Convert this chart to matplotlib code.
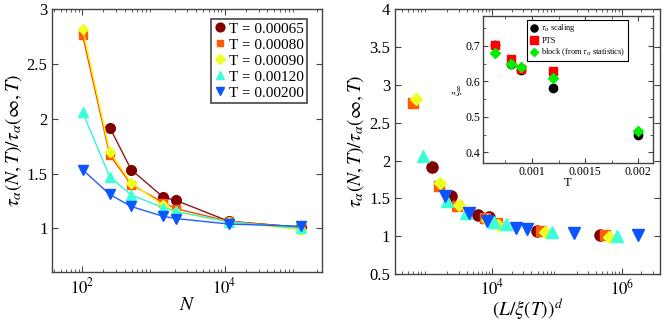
import matplotlib
matplotlib.use("Agg")
import matplotlib.pyplot as plt
from matplotlib.lines import Line2D
from matplotlib.ticker import FixedLocator, FixedFormatter, LogLocator, NullFormatter, MultipleLocator

plt.rcParams['font.family'] = ['Liberation Serif', 'DejaVu Serif']
plt.rcParams['mathtext.fontset'] = 'stix'

# ---------------- data ----------------
temps = ["0.00065", "0.00080", "0.00090", "0.00120", "0.00200"]
N_vals = [102, 245, 490, 1380, 2090, 11500, 117000]

# left panel: tau ratio vs N (T=0.00065 has no point at the smallest N)
N_065 = [245, 490, 1380, 2090, 11500, 117000]
r_065 = [1.92, 1.535, 1.285, 1.255, 1.065, 1.01]
r_080 = [2.76, 1.67, 1.40, 1.235, 1.18, 1.065, 1.01]
r_090 = [2.82, 1.70, 1.415, 1.21, 1.15, 1.06, 0.99]
r_120 = [2.06, 1.47, 1.305, 1.19, 1.155, 1.06, 1.00]
r_200 = [1.535, 1.31, 1.20, 1.11, 1.09, 1.04, 1.02]

# right panel: scaled variable (L/xi)^d
s_065 = [1150, 2300, 6000, 8900, 49000, 457000]
s_080 = [600, 1480, 2820, 7760, 11700, 57500, 550000]
s_090 = [660, 1550, 3050, 8300, 12300, 64500, 630000]
s_120 = [850, 2000, 3900, 10700, 16200, 85000, 830000]
s_200 = [1860, 4370, 8300, 22900, 33900, 186000, 1780000]

# inset: xi_infinity vs T
T_inset = [0.00065, 0.0008, 0.0009, 0.0012, 0.002]
xi_scaling = [0.703, 0.650, 0.632, 0.580, 0.448]
T_pts = [0.00065, 0.0008, 0.0009, 0.0012]
xi_pts = [0.703, 0.662, 0.635, 0.628]
xi_block = [0.680, 0.650, 0.640, 0.610, 0.460]

mcolors = ['#800000', '#ff5a00', '#eeff22', '#3cffd8', '#0a55ff']
lcolors = ['#8b1a1a', '#ff4a00', '#f5f500', '#30f5e0', '#1e60ff']
markers = ['o', 's', 'D', '^', 'v']
msizes = [7, 5.5, 6.5, 7, 7]

left_x = [N_065, N_vals, N_vals, N_vals, N_vals]
left_y = [r_065, r_080, r_090, r_120, r_200]
right_x = [s_065, s_080, s_090, s_120, s_200]

fig = plt.figure(figsize=(6.67, 3.27), dpi=100)

spine_col = '#444444'

def style(ax):
    for s in ax.spines.values():
        s.set_color(spine_col)
        s.set_linewidth(1.0)
    ax.tick_params(which='both', direction='in', top=True, right=True, color=spine_col)
    ax.tick_params(which='major', length=4)
    ax.tick_params(which='minor', length=2)

# ---------- left panel ----------
ax1 = fig.add_axes([0.0784, 0.1673, 0.4044, 0.805])
handles = []
for i in range(5):
    ms = msizes[i]
    if markers[i] == 'D':
        ms = msizes[i] * 0.85
    ax1.plot(left_x[i], left_y[i], '-', color=lcolors[i], lw=1.0,
             marker=markers[i], ms=ms, mfc=mcolors[i], mec=mcolors[i], zorder=3)
    handles.append(Line2D([], [], ls='none', marker=markers[i], ms=ms * 0.9,
                          mfc=mcolors[i], mec=mcolors[i], label='T = ' + temps[i]))
ax1.set_xscale('log')
ax1.set_xlim(38.3, 2.33e5)
ax1.set_ylim(0.6, 3.0)
ax1.set_yticks([1, 1.5, 2, 2.5, 3])
ax1.set_yticklabels(['1', '1.5', '2', '2.5', '3'])
ax1.xaxis.set_major_locator(FixedLocator([1e2, 1e4]))
ax1.xaxis.set_major_formatter(FixedFormatter([r'$10^2$', r'$10^4$']))
ax1.xaxis.set_minor_locator(LogLocator(base=10, subs=range(2, 10), numticks=20))
ax1.xaxis.set_minor_formatter(NullFormatter())
style(ax1)
ax1.tick_params(labelsize=12)
ax1.set_xlabel(r'$N$', fontsize=14, labelpad=0)
ax1.set_ylabel(r'$\tau_\alpha(N,T)/\tau_\alpha(\infty,T)$', fontsize=14, labelpad=2)
leg = ax1.legend(handles=handles, loc='upper right', fontsize=11, frameon=True,
                 fancybox=False, edgecolor=spine_col, framealpha=1,
                 handlelength=0.7, handletextpad=0.25, labelspacing=0.15,
                 borderpad=0.2, borderaxespad=0.0, bbox_to_anchor=(0.944, 0.962))
leg.get_frame().set_linewidth(1.2)

# ---------- right panel ----------
ax2 = fig.add_axes([0.5922, 0.1621, 0.3973, 0.809])
for i in range(5):
    ms = msizes[i] + 1
    if markers[i] == 'D':
        ms = msizes[i] * 0.95
    ax2.plot(right_x[i], left_y[i], ls='none', marker=markers[i], ms=ms,
             mfc=mcolors[i], mec=mcolors[i], zorder=3)
ax2.set_xscale('log')
ax2.set_xlim(313, 3.9e6)
ax2.set_ylim(0.5, 4.0)
ax2.set_yticks([0.5, 1, 1.5, 2, 2.5, 3, 3.5, 4])
ax2.set_yticklabels(['0.5', '1', '1.5', '2', '2.5', '3', '3.5', '4'])
ax2.xaxis.set_major_locator(FixedLocator([1e4, 1e6]))
ax2.xaxis.set_major_formatter(FixedFormatter([r'$10^4$', r'$10^6$']))
ax2.xaxis.set_minor_locator(LogLocator(base=10, subs=range(2, 10), numticks=20))
ax2.xaxis.set_minor_formatter(NullFormatter())
style(ax2)
ax2.tick_params(labelsize=12)
ax2.set_xlabel(r'$(L/\xi(T))^d$', fontsize=14, labelpad=-2)
ax2.set_ylabel(r'$\tau_\alpha(N,T)/\tau_\alpha(\infty,T)$', fontsize=14, labelpad=2)

# ---------- inset ----------
ax3 = fig.add_axes([0.7237, 0.5006, 0.2549, 0.4514])
ax3.plot(T_inset, xi_scaling, ls='none', marker='o', ms=6, color='black', label=r'$\tau_\alpha$ scaling')
ax3.plot(T_pts, xi_pts, ls='none', marker='s', ms=6, color='#ff0000', label='PTS')
ax3.plot(T_inset, xi_block, ls='none', marker='D', ms=5, color='#00ee00', label=r'block (from $\tau_\alpha$ statistics)')
ax3.set_xlim(0.000536, 0.002135)
ax3.set_ylim(0.369, 0.785)
ax3.xaxis.set_major_locator(FixedLocator([0.001, 0.0015, 0.002]))
ax3.xaxis.set_major_formatter(FixedFormatter(['0.001', '0.0015', '0.002']))
ax3.xaxis.set_minor_locator(MultipleLocator(0.00025))
ax3.yaxis.set_major_locator(FixedLocator([0.4, 0.5, 0.6, 0.7]))
ax3.yaxis.set_major_formatter(FixedFormatter(['0.4', '0.5', '0.6', '0.7']))
ax3.yaxis.set_minor_locator(MultipleLocator(0.05))
style(ax3)
ax3.tick_params(labelsize=8.5, pad=2)
ax3.tick_params(which='major', length=3.5)
ax3.tick_params(which='minor', length=2)
ax3.set_xlabel('T', fontsize=9, labelpad=-1)
ax3.set_ylabel(r'$\xi_\infty$', fontsize=7, labelpad=1)
leg3 = ax3.legend(loc='upper right', fontsize=6.0, frameon=True, fancybox=False,
                  edgecolor='black', framealpha=1, handlelength=1.0,
                  handletextpad=0.4, labelspacing=0.25, borderpad=0.3,
                  borderaxespad=0.0, bbox_to_anchor=(0.855, 0.971), markerscale=0.85)
leg3.get_frame().set_linewidth(0.8)

fig.savefig('out.png', dpi=100)
